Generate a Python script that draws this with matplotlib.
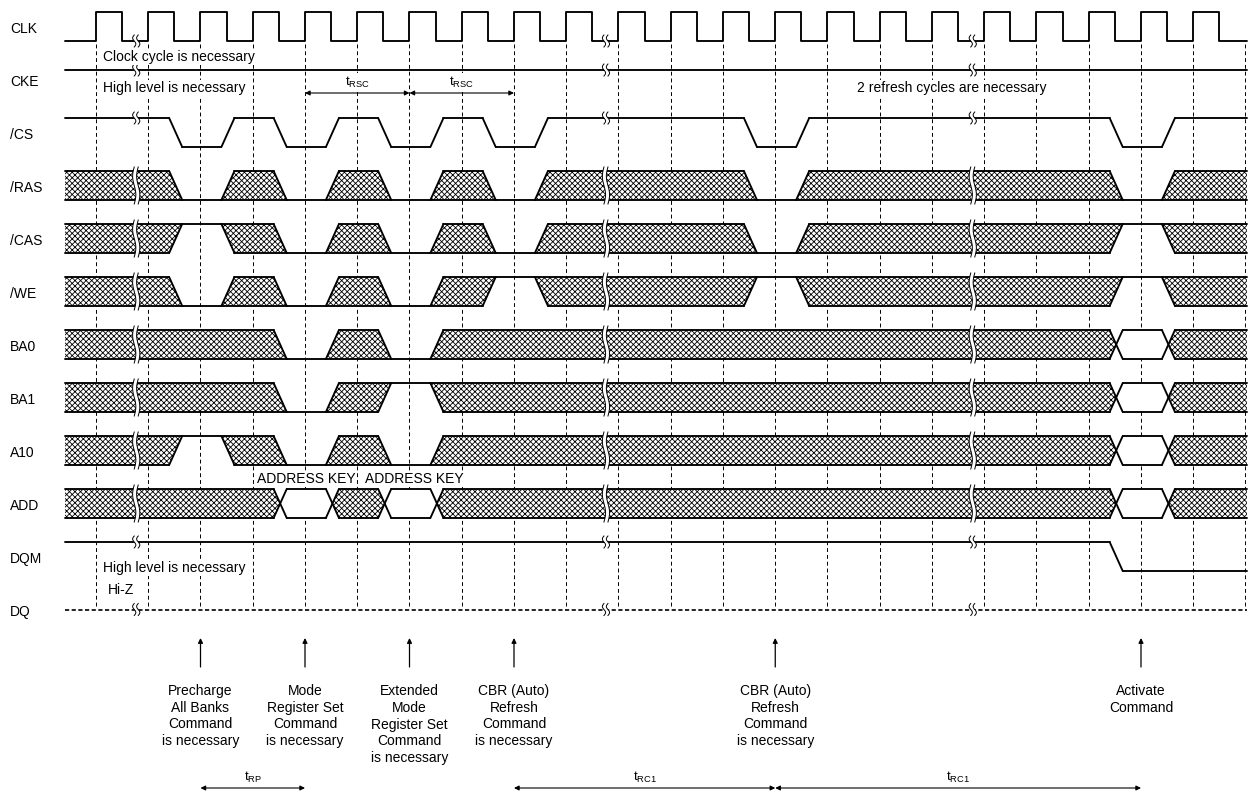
import numpy as np
import matplotlib
matplotlib.use("Agg")
import matplotlib.pyplot as plt
from matplotlib.patches import Polygon

plt.rcParams['font.family'] = ['Liberation Sans', 'DejaVu Sans']
plt.rcParams['mathtext.fontset'] = 'custom'
plt.rcParams['mathtext.rm'] = 'Liberation Sans'
plt.rcParams['hatch.linewidth'] = 0.6
plt.rcParams['hatch.color'] = 'black'

# ---- data ----
names = ["CLK", "CKE", "/CS", "/RAS", "/CAS", "/WE", "BA0", "BA1", "A10", "ADD", "DQM", "DQ"]

# clock, one letter per half cycle starting at cycle 0
clk = "HLHLHLHLHLHLHLHLHLHLHLHLHLHLHLHLHLHLHLHLHLHL"

# state before the first change, then state after each change at cycle k + 0.4 (k = 0..21)
# H high, L low, X don't care, V valid, Z hi-z
cke = "HHHHHHHHHHHHHHHHHHHHHHH"
cs  = "HHLHLHLHLHHHHLHHHHHHLHH"
ras = "XXLXLXLXLXXXXLXXXXXXLXX"
cas = "XXHXLXLXLXXXXLXXXXXXHXX"
we  = "XXLXLXLXHXXXXHXXXXXXHXX"
ba0 = "XXXXLXLXXXXXXXXXXXXXVXX"
ba1 = "XXXXLXHXXXXXXXXXXXXXVXX"
a10 = "XXHXLXLXXXXXXXXXXXXXVXX"
add = "XXXXVXVXXXXXXXXXXXXXVXX"
dqm = "HHHHHHHHHHHHHHHHHHHHLLL"
dq  = "ZZZZZZZZZZZZZZZZZZZZZZZ"
waves = [None, cke, cs, ras, cas, we, ba0, ba1, a10, add, dqm, dq]

breaks = [0.77, 9.76, 16.78]  # clock cycles where time is cut

cmd_cycles = [2, 4, 6, 8, 13, 20]
cmd_labels = ["Precharge\nAll Banks\nCommand\nis necessary",
              "Mode\nRegister Set\nCommand\nis necessary",
              "Extended\nMode\nRegister Set\nCommand\nis necessary",
              "CBR (Auto)\nRefresh\nCommand\nis necessary",
              "CBR (Auto)\nRefresh\nCommand\nis necessary",
              "Activate\nCommand"]

top_spans = [("RSC", 4, 6), ("RSC", 6, 8)]
bottom_spans = [("RP", 2, 4), ("RC1", 8, 13), ("RC1", 13, 20)]

# ---- layout (pixels) ----
PX = 52.25          # pixels per clock cycle
X0 = 96             # pixel of cycle 0
T0 = (65 - X0) / PX
T1 = (1247 - X0) / PX
SHIFT, TR = 0.4, 0.25
HGT = 29
row_low = 41 + 53 * np.arange(len(names))
row_low[1] += 5
FS = 10
LW = 1.35
lk = dict(color='black', lw=LW, solid_capstyle='round', zorder=3)

fig = plt.figure(figsize=(12.48, 7.97), dpi=100)
ax = fig.add_axes([0, 0, 1, 1])
ax.set_xlim(-X0 / PX, (1248 - X0) / PX)
ax.set_ylim(797, 0)
ax.axis('off')


def segments(s):
    out, i = [], 0
    while i < len(s):
        j = i
        while j + 1 < len(s) and s[j + 1] == s[i]:
            j += 1
        out.append((s[i], i, j + 1))
        i = j + 1
    return out


def draw_signal(s, ylo):
    yH, yL = ylo - HGT, ylo
    yM = (yH + yL) / 2
    for st, i, j in segments(s):
        prev = s[i - 1] if i > 0 else None
        nxt = s[j] if j < len(s) else None
        a0 = i - 1 + SHIFT
        a1, am = a0 + TR, a0 + TR / 2
        b0 = j - 1 + SHIFT
        b1, bm = b0 + TR, b0 + TR / 2
        if st in "HL":
            y = yH if st == "H" else yL
            xs = a1 if prev else T0
            xe = b0 if nxt else T1
            ax.plot([xs, xe], [y, y], **lk)
            if prev in ("H", "L"):
                ax.plot([a0, a1], [yH if prev == "H" else yL, y], **lk)
        elif st == "Z":
            ax.plot([T0, T1], [yM, yM], color='black', lw=1.2, dashes=(2.5, 1.5), zorder=3)
        else:
            if prev is None:
                left = [(T0, yL), (T0, yH)]
            elif prev == "L":
                left = [(a0, yL), (a1, yH)]
            elif prev == "H":
                left = [(a1, yL), (a0, yH)]
            else:
                left = [(a1, yL), (am, yM), (a1, yH)]
            if nxt is None:
                right = [(T1, yH), (T1, yL)]
            elif nxt == "L":
                right = [(b0, yH), (b1, yL)]
            elif nxt == "H":
                right = [(b1, yH), (b0, yL)]
            else:
                right = [(b0, yH), (bm, yM), (b0, yL)]
            ax.add_patch(Polygon(left + right, closed=True, facecolor='white',
                                 edgecolor='black', lw=0,
                                 hatch='xxxxxx' if st == "X" else None, zorder=2))
            ax.plot(*zip(left[-1], right[0]), **lk)
            ax.plot(*zip(right[-1], left[0]), **lk)
            if prev:
                ax.plot(*zip(*left), **lk)
            if nxt:
                ax.plot(*zip(*right), **lk)


def cut(t, y1, y2):
    yy = np.linspace(y1, y2, 40)
    s = (yy - (y1 + y2) / 2) / ((y2 - y1) / 2)
    wob = 1.6 * np.sin(np.pi * s) / PX
    xl = t - 2 / PX + wob
    xr = t + 2 / PX + wob
    ax.fill(np.r_[xl, xr[::-1]], np.r_[yy, yy[::-1]], color='white', lw=0, zorder=4)
    ax.plot(xl, yy, color='black', lw=0.7, zorder=5)
    ax.plot(xr, yy, color='black', lw=0.7, zorder=5)


# clock cycle grid
for k in range(23):
    ax.plot([k, k], [44, 608], color='black', lw=0.7, dashes=(4, 3), zorder=1)

# clock
yH, yL = row_low[0] - HGT, row_low[0]
tt = [T0] + [0.5 * k for k in range(len(clk))] + [T1]
lv = ["L"] + list(clk) + [clk[-1]]
ax.step(tt, [yH if c == "H" else yL for c in lv], where='post', **lk)
for b in breaks:
    cut(b, yL - 6, yL + 6)

# other signals
for r in range(1, len(names)):
    s = waves[r]
    draw_signal(s, row_low[r])
    for b in breaks:
        st = s[min(max(int(np.floor(b - SHIFT)) + 1, 0), len(s) - 1)]
        yH, yL = row_low[r] - HGT, row_low[r]
        if st in "XV":
            cut(b, yH - 4, yL + 4)
        else:
            y = {"H": yH, "L": yL, "Z": (yH + yL) / 2}[st]
            cut(b, y - 6, y + 6)

# names
for r, n in enumerate(names):
    ax.text((10 - X0) / PX, row_low[r] - 12 - (5 if r == 1 else 0), n,
            fontsize=FS, ha='left', va='center')

# notes
wb = dict(boxstyle='square,pad=0.1', fc='white', ec='none')
ax.text((103 - X0) / PX, 57, "Clock cycle is necessary", fontsize=FS, va='center', bbox=wb, zorder=6)
ax.text((103 - X0) / PX, 88, "High level is necessary", fontsize=FS, va='center', bbox=wb, zorder=6)
ax.text((857 - X0) / PX, 88, "2 refresh cycles are necessary", fontsize=FS, va='center', bbox=wb, zorder=6)
ax.text((103 - X0) / PX, 568, "High level is necessary", fontsize=FS, va='center', bbox=wb, zorder=6)
ax.text((108 - X0) / PX, 590, "Hi-Z", fontsize=FS, va='center', bbox=wb, zorder=6)
for t in (4.03, 6.1):
    ax.text(t, 479, "ADDRESS KEY", fontsize=FS, ha='center', va='center', bbox=wb, zorder=6)

# timing spans
ap = dict(arrowstyle='<|-|>', color='black', lw=0.8, mutation_scale=7, shrinkA=0, shrinkB=0)
for name, a, b in top_spans:
    ax.annotate('', xy=(b, 93), xytext=(a, 93), arrowprops=ap, zorder=6)
    ax.text((a + b) / 2, 82, r'$\mathrm{t_{%s}}$' % name, fontsize=9.5, ha='center', va='center', bbox=wb, zorder=6)
for name, a, b in bottom_spans:
    ax.annotate('', xy=(b, 788), xytext=(a, 788), arrowprops=ap)
    ax.text((a + b) / 2, 777, r'$\mathrm{t_{%s}}$' % name, fontsize=9.5, ha='center', va='center')

# commands
for k, lab in zip(cmd_cycles, cmd_labels):
    ax.annotate('', xy=(k, 638), xytext=(k, 667),
                arrowprops=dict(arrowstyle='-|>', color='black', lw=0.9, mutation_scale=7,
                                shrinkA=0, shrinkB=0))
    ax.text(k, 684, lab, fontsize=FS, ha='center', va='top', linespacing=1.25)

fig.savefig("out.png", dpi=100)
